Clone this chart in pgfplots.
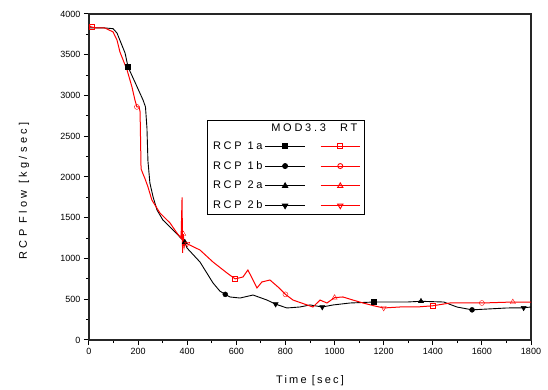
\documentclass[border=0pt]{standalone}
\usepackage{fontspec}
\setmainfont{Liberation Sans}
\newfontfamily\spaced[LetterSpace=20]{Liberation Sans}
\newfontfamily\yspaced[LetterSpace=30]{Liberation Sans}
\newfontfamily\legspaced[LetterSpace=25]{Liberation Sans}
\usepackage{pgfplots}
\pgfplotsset{compat=1.18}
\usepackage{pgfplotstable}

\pgfplotstableread{
t v
0 3830
60 3830
98 3820
114 3767
147 3520
159 3350
187 3165
220 2945
230 2860
236 2600
240 2200
248 1926
261 1755
277 1595
301 1472
342 1350
370 1264
390 1200
399 1129
452 957
505 700
533 600
555 560
574 528
615 515
668 552
725 490
760 440
806 393
859 405
900 430
950 405
994 430
1063 454
1160 466
1295 466
1352 475
1445 466
1498 405
1560 370
1702 393
1770 395
1800 405
}\blackdata

\pgfplotstableread{
t v
0 3860
10 3840
30 3830
65 3828
98 3780
114 3680
126 3534
155 3313
175 3104
187 2945
195 2860
204 2860
208 2800
212 2100
221 2030
228 1980
240 1880
256 1718
289 1558
330 1436
358 1313
375 1250
379 1750
381 1070
384 1300
388 1150
392 1220
400 1180
452 1104
505 957
562 822
595 750
627 773
647 859
668 736
684 638
704 712
737 736
770 650
800 560
831 490
888 430
912 405
941 490
969 454
1000 520
1034 528
1075 490
1116 454
1160 420
1200 393
1266 405
1336 405
1400 420
1470 454
1523 454
1600 454
1726 466
1800 466
}\reddata

\begin{document}
\begin{tikzpicture}
\begin{axis}[
  scale only axis, width=442pt, height=326pt,
  xmin=0, xmax=1800, ymin=0, ymax=4000,
  xtick={0,200,...,1800}, ytick={0,500,...,4000},
  minor x tick num=1, minor y tick num=1,
  tick align=outside, xtick pos=bottom, ytick pos=left,
  major tick length=5pt, minor tick length=3pt,
  axis line style={line width=1.3pt, black!85},
  tick style={line width=1pt, black},
  ticklabel style={font=\fontsize{9}{10}\selectfont},
  /pgf/number format/assume math mode=true,
  /pgf/number format/1000 sep={},
  xlabel={\spaced Time [sec]},
  ylabel={\yspaced RCP Flow [kg/sec]},
  label style={font=\fontsize{11}{12}\selectfont},
  xlabel style={at={(axis description cs:0.5,-0.126)}, anchor=center},
  ylabel style={at={(axis description cs:-0.147,0.457)}, anchor=center},
  legend image code/.code={\draw[mark repeat=2,mark phase=2] plot coordinates {(0cm,0cm) (0.69cm,0cm) (1.38cm,0cm)};},
  legend columns=2, legend plot pos=right,
  legend style={at={(0.267,0.675)}, anchor=north west, draw=black, line width=1pt,
    font=\legspaced\fontsize{11}{12}\selectfont, row sep=7.5pt, column sep=1pt,
    nodes={inner sep=1.5pt},
    inner xsep=4pt, inner ysep=3pt,
    /tikz/column 2/.style={column sep=11pt}},
  legend cell align=left,
]
\addplot[black, line width=0.9pt, forget plot] table {\blackdata};
\addplot[red, line width=1pt, forget plot] table {\reddata};

\addplot[black, only marks, mark=square*, mark size=2.5pt, mark indices={6,35}, forget plot] table {\blackdata};
\addplot[black, only marks, mark=*, mark size=2.5pt, mark indices={23,40}, forget plot] table {\blackdata};
\addplot[black, only marks, mark=triangle*, mark size=3pt, mark indices={18,37}, forget plot] table {\blackdata};
\addplot[black, only marks, mark=triangle*, mark size=3pt, mark options={rotate=180}, mark indices={28,32,42}, forget plot] table {\blackdata};

\addplot[red, only marks, mark=square, mark size=2.5pt, mark options={fill=white}, mark indices={2,32,54}, forget plot] table {\reddata};
\addplot[red, only marks, mark=o, mark size=2.5pt, mark options={fill=white}, mark indices={11,40,57}, forget plot] table {\reddata};
\addplot[red, only marks, mark=triangle, mark size=3pt, mark options={fill=white}, mark indices={25,46,58}, forget plot] table {\reddata};
\addplot[red, only marks, mark=triangle, mark size=3pt, mark options={fill=white, rotate=180}, mark indices={51,28}, forget plot] table {\reddata};

\addlegendimage{legend image code/.code={\path[draw=none,fill=none] (0,-4pt) rectangle (1.38cm,4pt); \node[inner sep=0pt, draw=none, fill=none, text=black, font=\legspaced\fontsize{11}{12}\selectfont] at (1.13cm,0) {\makebox[0pt]{MOD3.3}};}}
\addlegendentry{}
\addlegendimage{legend image code/.code={\path[draw=none,fill=none] (0,-4pt) rectangle (1.28cm,4pt); \node[inner sep=0pt, draw=none, fill=none, text=black, font=\legspaced\fontsize{11}{12}\selectfont] at (0.95cm,0) {\makebox[0pt]{RT}};}}
\addlegendentry{}
\addlegendimage{black, line width=0.9pt, mark=square*, mark size=2.5pt}
\addlegendentry{RCP 1a}
\addlegendimage{red, line width=0.9pt, mark=square, mark size=2.5pt, mark options={fill=white}}
\addlegendentry{}
\addlegendimage{black, line width=0.9pt, mark=*, mark size=2.5pt}
\addlegendentry{RCP 1b}
\addlegendimage{red, line width=0.9pt, mark=o, mark size=2.5pt, mark options={fill=white}}
\addlegendentry{}
\addlegendimage{black, line width=0.9pt, mark=triangle*, mark size=3pt}
\addlegendentry{RCP 2a}
\addlegendimage{red, line width=0.9pt, mark=triangle, mark size=3pt, mark options={fill=white}}
\addlegendentry{}
\addlegendimage{black, line width=0.9pt, mark=triangle*, mark size=3pt, mark options={rotate=180}}
\addlegendentry{RCP 2b}
\addlegendimage{red, line width=0.9pt, mark=triangle, mark size=3pt, mark options={fill=white, rotate=180}}
\addlegendentry{}
\end{axis}
\pgfresetboundingbox
\path (-89pt,-50pt) rectangle (459pt,340pt);
\end{tikzpicture}
\end{document}
